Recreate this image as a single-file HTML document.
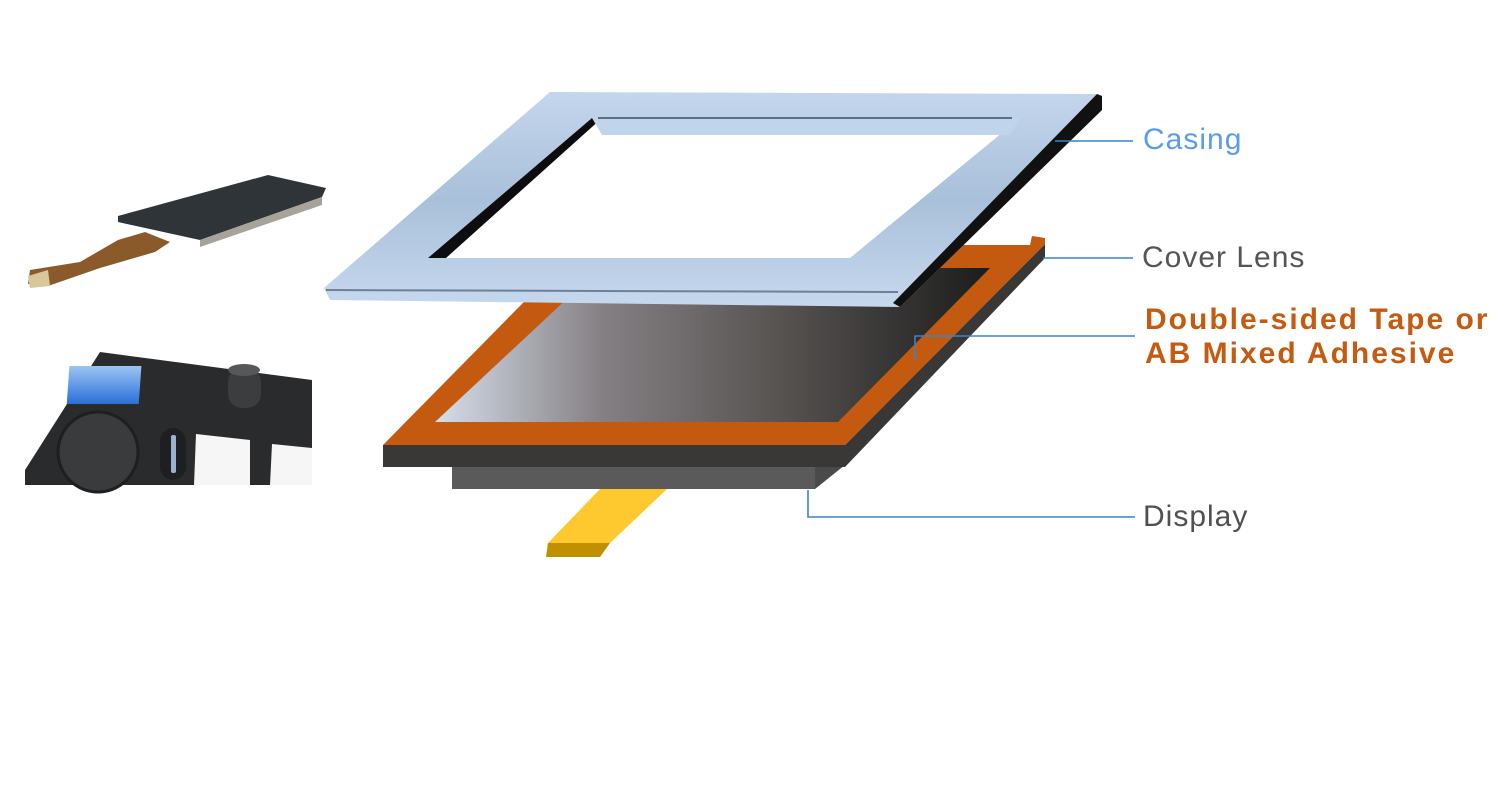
<!DOCTYPE html>
<html><head><style>
html,body{margin:0;padding:0;background:#fff;}
body{width:1500px;height:800px;position:relative;overflow:hidden;font-family:"Liberation Sans",sans-serif;}
.l{position:absolute;font-size:30px;white-space:nowrap;letter-spacing:1px;}
</style></head><body>
<svg width="1500" height="800" style="position:absolute;left:0;top:0">
<defs>
<linearGradient id="scr" x1="0" x2="1" y1="0" y2="0">
<stop offset="0" stop-color="#d6deea"/><stop offset="0.3" stop-color="#858084"/><stop offset="0.6" stop-color="#5a5654"/><stop offset="1" stop-color="#1c1c1c"/></linearGradient>
<linearGradient id="fr" x1="0" x2="0" y1="0" y2="1">
<stop offset="0" stop-color="#c4d6ec"/><stop offset="0.5" stop-color="#a9c0da"/><stop offset="1" stop-color="#c6d8ee"/></linearGradient>
<linearGradient id="blue" x1="0" x2="0" y1="0" y2="1"><stop offset="0" stop-color="#9cc4f4"/><stop offset="1" stop-color="#2a6fd8"/></linearGradient>
</defs>
<polygon points="118,216 268,175 326,188 322,197 200,240 118,222" fill="#2f3438"/>
<polygon points="200,240 322,197 322,205 200,247" fill="#a8a39a"/>
<polygon points="145,232 118,240 80,262 30,270 28,284 48,286 100,268 155,252 170,242" fill="#8a5a2a"/>
<polygon points="28,276 48,270 50,286 30,288" fill="#d8c79a"/>
<polygon points="25,485 25,470 100,352 312,380 312,485" fill="#2a2b2d"/>
<rect x="95" y="366" width="72" height="38" fill="url(#blue)" transform="skewX(-4)" />
<circle cx="98" cy="452" r="40" fill="#3a3b3d" stroke="#1e1f20" stroke-width="3"/>
<rect x="228" y="368" width="33" height="40" rx="14" fill="#3c3d3f"/>
<ellipse cx="244" cy="370" rx="16" ry="6" fill="#55575a"/>
<rect x="160" y="428" width="26" height="52" rx="13" fill="#1e1f21"/>
<rect x="171" y="435" width="5" height="38" rx="2" fill="#9ab2d0"/>
<polygon points="196,434 250,440 250,485 194,485" fill="#f6f6f6"/>
<polygon points="272,444 312,448 312,485 270,485" fill="#f6f6f6"/>
<polygon points="600,489 667,489 610,543 548,543" fill="#fdc92e"/>
<polygon points="548,543 610,543 600,557 546,557" fill="#c09000"/>
<rect x="452" y="465" width="363" height="24" fill="#5a5a5a"/>
<polygon points="815,465 845,465 815,489" fill="#4a4a4a"/>
<polygon points="383,445 845,445 1045,244 1045,258 845,467 383,467" fill="#393837"/>
<polygon points="383,445 580,245 1030,245 1032,236 1045,238 1045,244 845,445" fill="#c45a10"/>
<polygon points="435,422 838,422 990,268 600,268" fill="url(#scr)"/>
<polygon points="550,92 1097,94 1102,110 900,307 330,300 324,288" fill="url(#fr)"/>
<polygon points="1097,94 1102,96 1102,110 900,307 893,303" fill="#111"/>
<polygon points="592,118 1020,118 850,258 428,258" fill="#fff"/>
<polygon points="592,118 602,118 446,258 428,258" fill="#0d0d10"/>
<polygon points="592,118 1020,118 1010,135 602,135" fill="#c0d4ec"/>
<line x1="326" y1="290" x2="898" y2="292" stroke="#6e8094" stroke-width="2"/>
<line x1="598" y1="118" x2="1012" y2="118" stroke="#5d6f84" stroke-width="2"/>
<g stroke="#3c82c8" stroke-width="1.6" fill="none">
<polyline points="1055,141 1133,141"/>
<polyline points="1043,258 1133,258"/>
<polyline points="915,360 915,336 1135,336"/>
<polyline points="808,490 808,517 1135,517"/>
</g>
</svg>
<div class="l" style="left:1143px;top:123px;color:#5b9bef;">Casing</div>
<div class="l" style="left:1142px;top:241px;color:#555;">Cover Lens</div>
<div class="l" style="left:1145px;top:303px;color:#c55a11;font-weight:bold;line-height:34px;letter-spacing:2px;">Double-sided Tape or<br>AB Mixed Adhesive</div>
<div class="l" style="left:1143px;top:500px;color:#505050;">Display</div>
</body></html>
